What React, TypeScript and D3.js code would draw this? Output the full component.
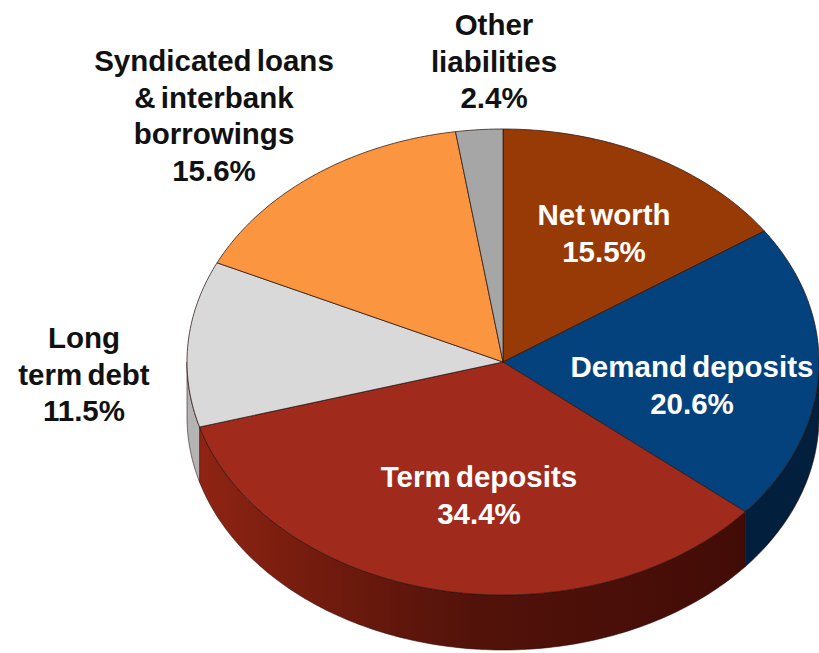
import React from "react";
import * as d3 from "d3";

// Liability shares, clockwise from twelve o'clock
const categories = ["Net worth", "Demand deposits", "Term deposits", "Long term debt", "Syndicated loans & interbank borrowings", "Other liabilities"];
const shares = [15.5, 20.6, 34.4, 11.5, 15.6, 2.4];
const topColors = ["#983a06", "#04427e", "#a02a1c", "#d9d9d9", "#fb9540", "#a6a6a6"];
const wallColors = ["#5a2004", "#021f3e", "#5a160c", "#b4b4b4", "#a86020", "#777777"];

type Label = { lines: string[]; x: number; y: number; fill: string };
const labels: Label[] = [
  { lines: ["Net worth", "15.5%"], x: 604, y: 225, fill: "#ffffff" },
  { lines: ["Demand deposits", "20.6%"], x: 692, y: 377, fill: "#ffffff" },
  { lines: ["Term deposits", "34.4%"], x: 479, y: 487, fill: "#ffffff" },
  { lines: ["Long", "term debt", "11.5%"], x: 84, y: 348, fill: "#111111" },
  { lines: ["Syndicated loans", "& interbank", "borrowings", "15.6%"], x: 214, y: 71, fill: "#111111" },
  { lines: ["Other", "liabilities", "2.4%"], x: 494, y: 35, fill: "#111111" },
];

const W = 819;
const H = 653;
const CX = 503;
const CY = 362;
const RX = 316;
const RY = 233;
const DEPTH = 55;
const LINE_GAP = 36.7;

const pieLayout = d3.pie<number>().sort(null).startAngle(0).endAngle(2 * Math.PI);
const arcs = pieLayout(shares);

// Projects a clockwise-from-top angle onto the tilted ellipse
const rimX = d3.scaleLinear().domain([-1, 1]).range([CX - RX, CX + RX]);
const rimY = d3.scaleLinear().domain([-1, 1]).range([CY + RY, CY - RY]);
const project = (a: number, dy = 0): [number, number] => [rimX(Math.sin(a)), rimY(Math.cos(a)) + dy];
const line = d3.line();

const rim = (a0: number, a1: number, dy = 0) => {
  const n = Math.max(2, Math.ceil(Math.abs(a1 - a0) * 60));
  return d3.range(n + 1).map((i) => project(a0 + ((a1 - a0) * i) / n, dy));
};

const slicePath = (a0: number, a1: number) => line([[CX, CY], ...rim(a0, a1)]) + "Z";

// Only the front half of the cylinder (90° to 270°) shows a wall
const wallPath = (a0: number, a1: number) => {
  const s = Math.max(a0, Math.PI / 2);
  const e = Math.min(a1, (3 * Math.PI) / 2);
  if (e <= s) return null;
  return line([...rim(s, e), ...rim(e, s, DEPTH)]) + "Z";
};

export default function App() {
  return (
    <svg
      width={W}
      height={H}
      viewBox={`0 0 ${W} ${H}`}
      style={{ position: "absolute", left: 0, top: 0, background: "#fff" }}
    >
      <defs>
        <linearGradient id="termWall" gradientUnits="userSpaceOnUse" x1={200} x2={745} y1={0} y2={0}>
          <stop offset="0" stopColor="#8f2413" />
          <stop offset="0.2" stopColor="#741c0e" />
          <stop offset="0.5" stopColor="#52120a" />
          <stop offset="1" stopColor="#420c06" />
        </linearGradient>
      </defs>
      <g>
        {arcs.map((d, i) => {
          const p = wallPath(d.startAngle, d.endAngle);
          return p ? (
            <path
              key={categories[i]}
              d={p}
              fill={i === 2 ? "url(#termWall)" : wallColors[i]}
              stroke="#2a0a05"
              strokeWidth={0.8}
              strokeOpacity={0.7}
            />
          ) : null;
        })}
        {arcs.map((d, i) => (
          <path
            key={categories[i]}
            d={slicePath(d.startAngle, d.endAngle)}
            fill={topColors[i]}
            stroke="#2b1510"
            strokeWidth={1}
            strokeOpacity={0.75}
            strokeLinejoin="round"
          />
        ))}
      </g>
      <g
        fontFamily="'Liberation Sans', Arial, sans-serif"
        fontWeight={700}
        fontSize={29.5}
        wordSpacing={-3}
        textAnchor="middle"
      >
        {labels.map((l) => (
          <text key={l.lines[0]} x={l.x} y={l.y} fill={l.fill}>
            {l.lines.map((t, j) => (
              <tspan key={t} x={l.x} y={l.y + j * LINE_GAP}>
                {t}
              </tspan>
            ))}
          </text>
        ))}
      </g>
    </svg>
  );
}
